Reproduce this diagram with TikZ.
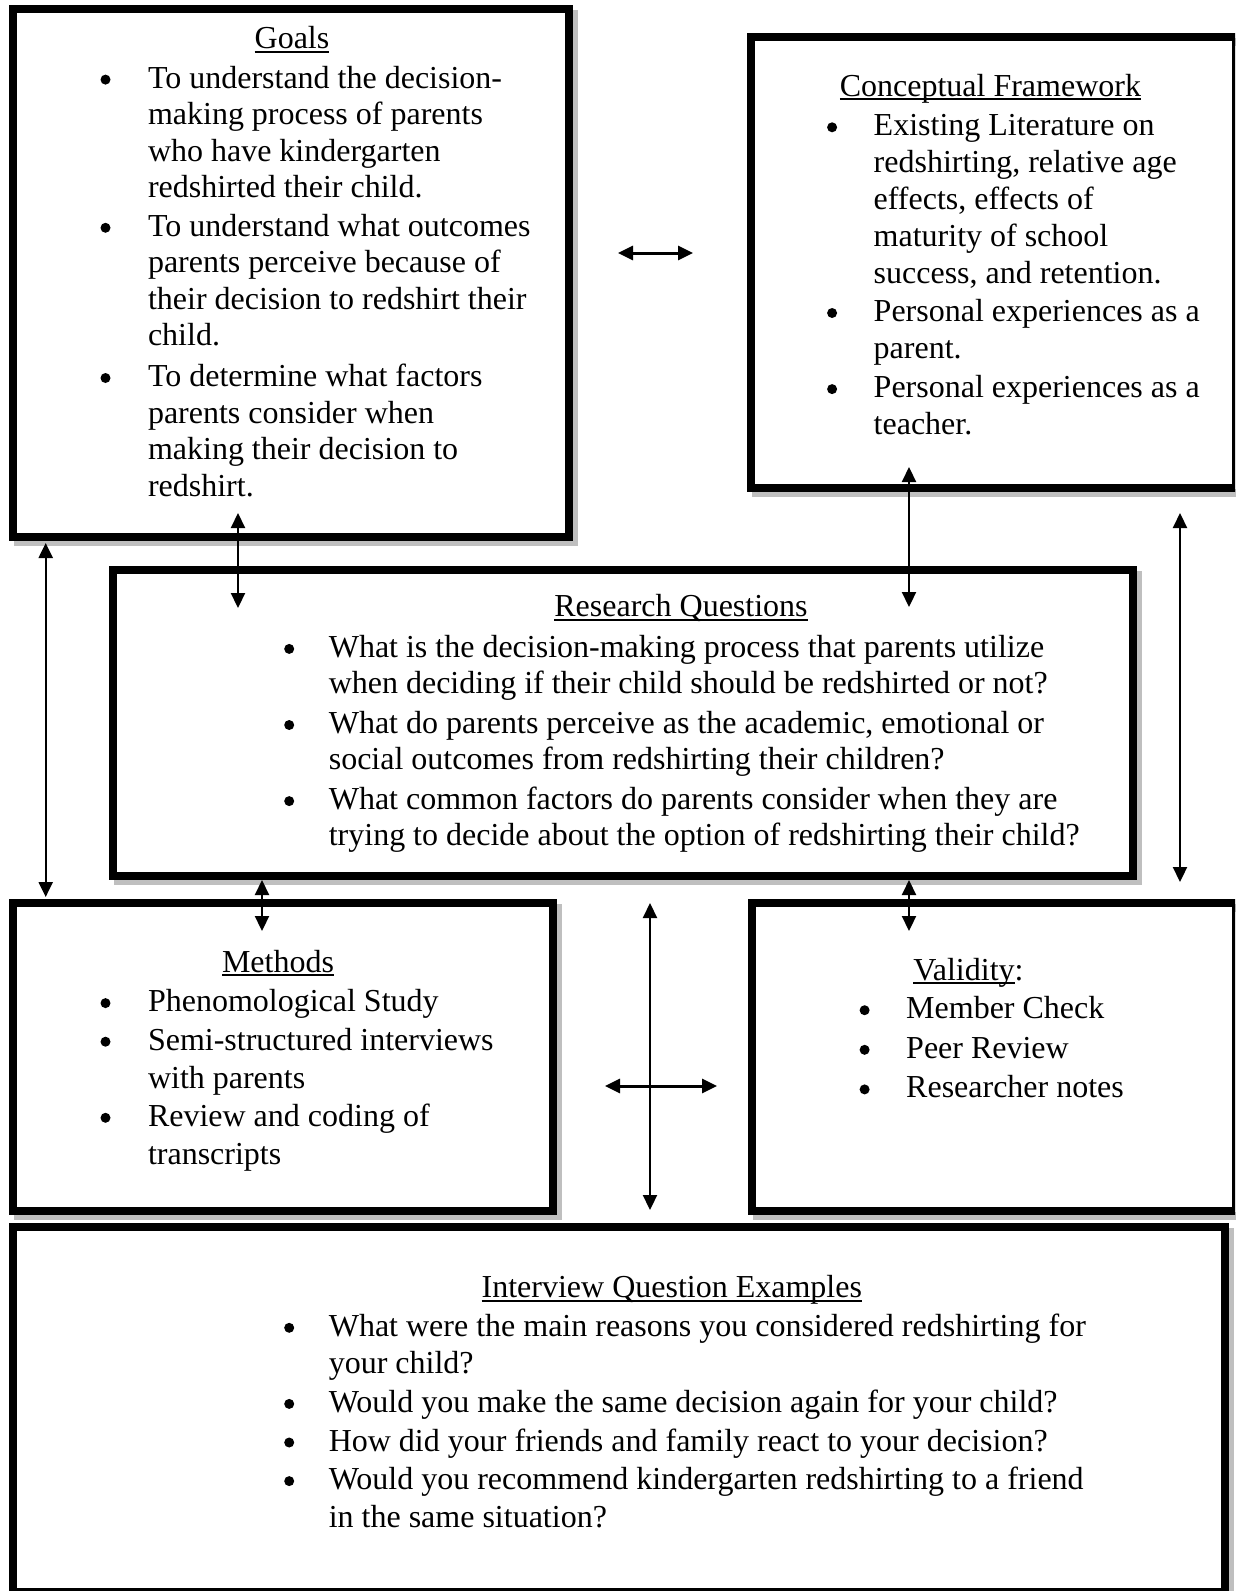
\documentclass[tikz,border=0pt]{standalone}
\usepackage{fontspec}
\setmainfont{Liberation Serif}
\usetikzlibrary{arrows.meta,backgrounds}
\newcommand{\ulx}[1]{\setbox0\hbox{#1}\rlap{\rule[-4pt]{\wd0}{1.8pt}}\box0}
\newcommand{\bitem}[2]{\parbox[t]{900pt}{\fontsize{32}{#1}\selectfont\hangindent=48pt\hangafter=1\noindent\makebox[48pt][l]{}#2}}
\tikzset{
  box/.style={draw=black, fill=white, line width=8pt, outer sep=0pt, inner sep=0pt, rectangle},
  shadowline/.style={draw=black!25, line width=8pt},
  txt/.style={inner sep=0pt, outer sep=0pt, anchor=base west, yshift=-2pt, font=\fontsize{32}{36.5}\selectfont},
  ttl/.style={inner sep=0pt, outer sep=0pt, anchor=base, yshift=-2pt, font=\fontsize{32}{36.5}\selectfont},
  bul/.style={circle, fill=black, draw=none, inner sep=0pt, minimum size=10pt},
  dbl/.style={line width=2.2pt, {Triangle[length=15pt,width=14pt]}-{Triangle[length=15pt,width=14pt]}},
  dblh/.style={line width=3pt, {Triangle[length=15pt,width=14pt]}-{Triangle[length=15pt,width=14pt]}}
}
\begin{document}
\begin{tikzpicture}[x=1pt,y=-1pt]
\useasboundingbox (0,0) rectangle (1235,1591);
\clip (0,0) rectangle (1235,1591);
% boxes
\node[box, minimum width=556pt, minimum height=528pt] (goals) at (291,273) {};
\node[box, minimum width=485pt, minimum height=451pt] (concept) at (993.5,262.5) {};
\node[box, minimum width=1020.5pt, minimum height=306pt] (research) at (622.75,723) {};
\node[box, minimum width=540pt, minimum height=308pt] (methods) at (283,1057) {};
\node[box, minimum width=484pt, minimum height=308pt] (validity) at (994,1057) {};
\node[box, minimum width=1211.5pt, minimum height=365pt] (interview) at (618.75,1409.5) {};
\begin{scope}[on background layer]
\foreach \b in {goals,concept,research,methods,validity,interview}{
  \draw[shadowline] ([shift={(5,5)}]\b.north west) rectangle ([shift={(5,5)}]\b.south east);
}
\end{scope}
% Goals
\node[ttl] (gt) at (292,46.5) {\ulx{Goals}};
\node[txt] (g1) at (100,86.1) {\bitem{36.5}{To understand the decision-\\making process of parents\\who have kindergarten\\redshirted their child.}};
\node[txt] (g2) at (100,234.3) {\bitem{36.5}{To understand what outcomes\\parents perceive because of\\their decision to redshirt their\\child.}};
\node[txt] (g3) at (100,384.5) {\bitem{36.5}{To determine what factors\\parents consider when\\making their decision to\\redshirt.}};
% Conceptual
\node[ttl] (ct) at (990.4,94.2) {\ulx{Conceptual Framework}};
\node[txt] (c1) at (825.7,133.8) {\bitem{36.8}{Existing Literature on\\redshirting, relative age\\effects, effects of\\maturity of school\\success, and retention.}};
\node[txt] (c2) at (825.7,319.5) {\bitem{36.8}{Personal experiences as a\\parent.}};
\node[txt] (c3) at (825.7,395.6) {\bitem{36.8}{Personal experiences as a\\teacher.}};
% Research
\node[ttl] (rt) at (681,614.8) {\ulx{Research Questions}};
\node[txt] (r1) at (280.8,655.4) {\bitem{35.6}{What is the decision-making process that parents utilize\\when deciding if their child should be redshirted or not?}};
\node[txt] (r2) at (280.8,731.5) {\bitem{35.6}{What do parents perceive as the academic, emotional or\\social outcomes from redshirting their children?}};
\node[txt] (r3) at (280.8,807.6) {\bitem{35.6}{What common factors do parents consider when they are\\trying to decide about the option of redshirting their child?}};
% Methods
\node[ttl] (mt) at (278,970) {\ulx{Methods}};
\node[txt] (m1) at (100,1009.6) {\bitem{38}{Phenomological Study}};
\node[txt] (m2) at (100,1048.2) {\bitem{38}{Semi-structured interviews\\with parents}};
\node[txt] (m3) at (100,1124.3) {\bitem{38}{Review and coding of\\transcripts}};
% Validity
\node[txt] (vt) at (913.3,978) {\ulx{Validity}:};
\node[txt] (v1) at (858.2,1016.7) {\bitem{38}{Member Check}};
\node[txt] (v2) at (858.2,1056.3) {\bitem{38}{Peer Review}};
\node[txt] (v3) at (858.2,1095.9) {\bitem{38}{Researcher notes}};
% Interview
\node[ttl] (it) at (671.8,1295.8) {\ulx{Interview Question Examples}};
\node[txt] (i1) at (280.8,1334.3) {\bitem{37}{What were the main reasons you considered redshirting for\\your child?}};
\node[txt] (i2) at (280.8,1410.4) {\bitem{37}{Would you make the same decision again for your child?}};
\node[txt] (i3) at (280.8,1449) {\bitem{37}{How did your friends and family react to your decision?}};
\node[txt] (i4) at (280.8,1487.6) {\bitem{37.5}{Would you recommend kindergarten redshirting to a friend\\in the same situation?}};
% bullets
\foreach \n/\dx in {g1/5.5,g2/5.5,g3/5.5,c1/6.4,c2/6.4,c3/6.4,r1/8.4,r2/8.4,r3/8.4,m1/5.5,m2/5.5,m3/5.5,v1/6.4,v2/6.4,v3/6.4,i1/8.4,i2/8.4,i3/8.4,i4/8.4}{
  \node[bul] (\n-b) at ([shift={(\dx,-8.5)}]\n.base west) {};
}
% arrow ends
\coordinate (a1l) at (618,253);  \coordinate (a1r) at (693,253);
\coordinate (a2t) at (238,513);  \coordinate (a2b) at (238,608);
\coordinate (a3t) at (909,467);  \coordinate (a3b) at (909,607);
\coordinate (a4t) at (45.7,543); \coordinate (a4b) at (45.7,897);
\coordinate (a5t) at (1180,513); \coordinate (a5b) at (1180,882);
\coordinate (a6t) at (262,880);  \coordinate (a6b) at (262,931);
\coordinate (a7t) at (909,880);  \coordinate (a7b) at (909,931);
\coordinate (a8t) at (650,903);  \coordinate (a8b) at (650,1210);
\coordinate (a9l) at (605,1086); \coordinate (a9r) at (717,1086);
\draw[dblh] (a1l) -- (a1r);
\draw[dbl] (a2t) -- (a2b);
\draw[dbl] (a3t) -- (a3b);
\draw[dbl] (a4t) -- (a4b);
\draw[dbl] (a5t) -- (a5b);
\draw[dbl] (a6t) -- (a6b);
\draw[dbl] (a7t) -- (a7b);
\draw[dbl] (a8t) -- (a8b);
\draw[dblh] (a9l) -- (a9r);
\end{tikzpicture}
\end{document}
